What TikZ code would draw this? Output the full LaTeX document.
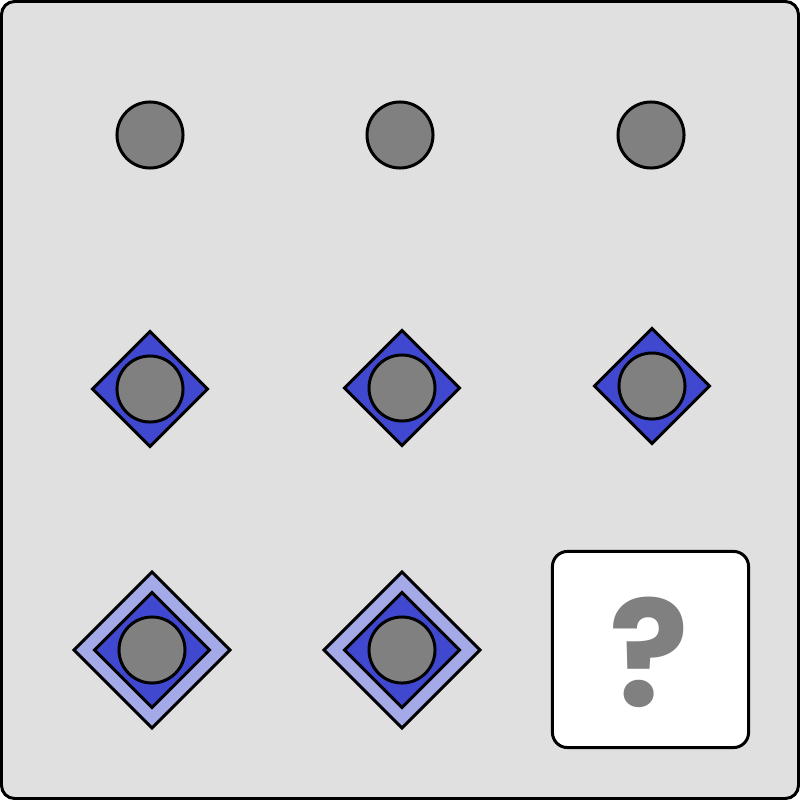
\documentclass[tikz,border=0pt]{standalone}
\usepackage{fontspec}
\usetikzlibrary{shapes.geometric}
\definecolor{panelgray}{RGB}{224,224,224}
\definecolor{dotgray}{RGB}{128,128,128}
\definecolor{diamondblue}{RGB}{64,72,208}
\definecolor{haloblue}{RGB}{164,170,232}
\newfontfamily\qfont{Poppins}

\begin{document}
\begin{tikzpicture}[x=0.01cm, y=-0.01cm,
    dot/.style={circle, draw=black, line width=0.85pt, fill=dotgray, minimum size=0.66cm, inner sep=0pt},
    gem/.style={diamond, draw=black, line width=0.85pt, fill=diamondblue, minimum size=1.16cm, inner sep=0pt},
    halo/.style={diamond, draw=black, line width=0.85pt, fill=haloblue, minimum size=1.57cm, inner sep=0pt},
    answerbox/.style={rectangle, draw=black, line width=0.85pt, fill=white, rounded corners=0.15cm, minimum size=1.96cm, inner sep=0pt}]

    % Panel
    \useasboundingbox (0,0) rectangle (800,800);
    \draw[line width=0.85pt, fill=panelgray, rounded corners=0.13cm] (1.5,1.5) rectangle (798.5,798.5);

    % Row 1: plain dots
    \node[dot] (dotA) at (150,135) {};
    \node[dot] (dotB) at (400,135) {};
    \node[dot] (dotC) at (651,135) {};

    % Row 2: dots on a diamond
    \node[gem] (gemA) at (150,389) {};
    \node[dot] (dotD) at (gemA) {};
    \node[gem] (gemB) at (402,388) {};
    \node[dot] (dotE) at (gemB) {};
    \node[gem] (gemC) at (652,386) {};
    \node[dot] (dotF) at (gemC) {};

    % Row 3: dots on a diamond with halo
    \node[halo] (haloA) at (152,650) {};
    \node[gem] (gemD) at (haloA) {};
    \node[dot] (dotG) at (haloA) {};
    \node[halo] (haloB) at (402,650) {};
    \node[gem] (gemE) at (haloB) {};
    \node[dot] (dotH) at (haloB) {};

    % Missing cell
    \node[answerbox] (answer) at (650.5,649.5) {};
    \node[text=dotgray, font=\qfont\bfseries\fontsize{42}{42}\selectfont, inner sep=0pt] (qmark) at (649,652) {?};

\end{tikzpicture}
\end{document}
